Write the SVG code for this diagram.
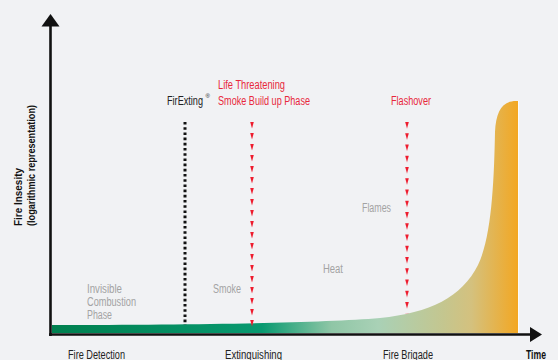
<svg xmlns="http://www.w3.org/2000/svg" width="558" height="360" viewBox="0 0 558 360">
<defs>
<style>
text{font-family:"Liberation Sans",Arial,sans-serif;font-size:12px}
.red{fill:#e8283c}
.gray{fill:#a3a3a3}
.blk{fill:#222}
.bold{font-weight:bold;fill:#111}
.ax{font-size:10.5px}
.sup{font-size:6px}
</style>
<linearGradient id="fireGrad" gradientUnits="userSpaceOnUse" x1="52" y1="0" x2="518" y2="0">
<stop offset="0" stop-color="#00804f"/>
<stop offset="0.45" stop-color="#089a70"/>
<stop offset="0.6" stop-color="#8fc6a6"/>
<stop offset="0.7" stop-color="#a9d1b6"/>
<stop offset="0.84" stop-color="#c4c68f"/>
<stop offset="0.9" stop-color="#d4c17e"/>
<stop offset="1" stop-color="#f3a722"/>
</linearGradient>
<pattern id="redArr" patternUnits="userSpaceOnUse" x="0" y="0" width="4" height="11">
<polygon points="0.2,0 3.8,0 2,6.5" fill="#ee1c2e"/>
</pattern>
</defs>
<rect width="558" height="360" fill="#f1f2f4"/>

<g id="fire-curve">
<path d="M52,333 L52,325 C200,325 320,323 380,318 C430,313 462,297 478,265 C492,236 494,180 495,132 C496,112 502,101 516,101 L518,101 L518,333 Z" fill="url(#fireGrad)"/>
<line x1="518.5" y1="101" x2="518.5" y2="333" stroke="#ffffff" stroke-width="1" opacity="0.7"/>
</g>

<g id="connectors">
<line x1="185" y1="122" x2="185" y2="325" stroke="#111" stroke-width="3" stroke-dasharray="2.6 2.6"/>
<g transform="translate(250,122)"><rect width="4" height="209" fill="url(#redArr)"/></g>
<g transform="translate(405,122) scale(1,1.0227)"><rect width="4" height="187" fill="url(#redArr)"/></g>
</g>

<g id="axes">
<line x1="50.5" y1="24" x2="50.5" y2="336" stroke="#111" stroke-width="2.6"/>
<polygon points="50.5,14 41.5,26.5 59.5,26.5" fill="#111"/>
<line x1="49" y1="334.5" x2="532" y2="334.5" stroke="#111" stroke-width="2.6"/>
<polygon points="542,334.5 530,327 530,342" fill="#111"/>
</g>

<g id="y-label">
<text class="bold ax" transform="translate(22,226) rotate(-90)" textLength="58" lengthAdjust="spacingAndGlyphs">Fire Insesity</text>
<text class="bold ax" transform="translate(35,226) rotate(-90)" textLength="121" lengthAdjust="spacingAndGlyphs">(logarithmic representation)</text>
</g>

<g id="firexting">
<text class="blk" x="167" y="105" textLength="36" lengthAdjust="spacingAndGlyphs">FirExting</text>
<text class="blk sup" x="205.5" y="98">®</text>
</g>
<g id="life-threatening">
<text class="red" x="218" y="89" textLength="67" lengthAdjust="spacingAndGlyphs">Life Threatening</text>
<text class="red" x="218" y="105" textLength="92" lengthAdjust="spacingAndGlyphs">Smoke Build up Phase</text>
</g>
<g id="flashover"><text class="red" x="391" y="105" textLength="40" lengthAdjust="spacingAndGlyphs">Flashover</text></g>

<g id="invisible">
<text class="gray" x="87" y="293" textLength="35" lengthAdjust="spacingAndGlyphs">Invisible</text>
<text class="gray" x="87" y="306" textLength="49" lengthAdjust="spacingAndGlyphs">Combustion</text>
<text class="gray" x="87" y="319" textLength="25" lengthAdjust="spacingAndGlyphs">Phase</text>
</g>
<g id="smoke"><text class="gray" x="213" y="293" textLength="28" lengthAdjust="spacingAndGlyphs">Smoke</text></g>
<g id="heat"><text class="gray" x="323" y="273" textLength="20" lengthAdjust="spacingAndGlyphs">Heat</text></g>
<g id="flames"><text class="gray" x="362" y="212" textLength="29" lengthAdjust="spacingAndGlyphs">Flames</text></g>

<g id="fire-detection"><text class="blk" x="68" y="358.5" textLength="57" lengthAdjust="spacingAndGlyphs">Fire Detection</text></g>
<g id="extinguishing"><text class="blk" x="225" y="358.5" textLength="57" lengthAdjust="spacingAndGlyphs">Extinguishing</text></g>
<g id="fire-brigade"><text class="blk" x="383" y="358.5" textLength="50" lengthAdjust="spacingAndGlyphs">Fire Brigade</text></g>
<g id="time"><text class="bold" x="526" y="358.5" textLength="20" lengthAdjust="spacingAndGlyphs">Time</text></g>
</svg>
